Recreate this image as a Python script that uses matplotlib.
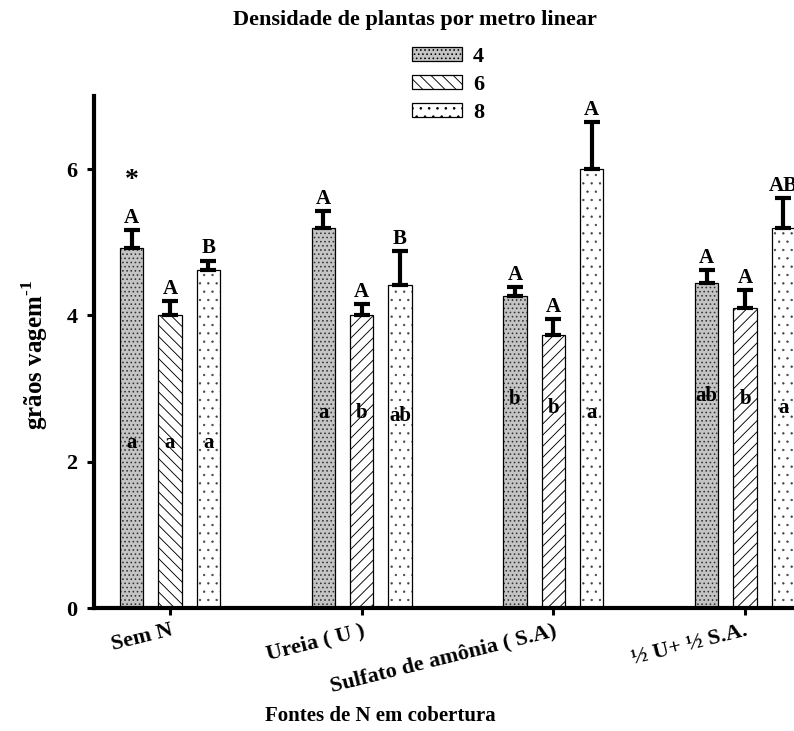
import matplotlib
matplotlib.use("Agg")
import matplotlib.pyplot as plt
import numpy as np

plt.rcParams['font.family'] = ['Liberation Serif', 'DejaVu Serif']
plt.rcParams['font.weight'] = 'bold'
plt.rcParams['mathtext.fontset'] = 'custom'
plt.rcParams['mathtext.rm'] = 'Liberation Serif:bold'
plt.rcParams['mathtext.bf'] = 'Liberation Serif:bold'
plt.rcParams['hatch.color'] = 'black'
plt.rcParams['hatch.linewidth'] = 0.65

# ---------------- data ----------------
categories = ["Sem N", "Ureia ( U )", "Sulfato de amônia ( S.A)", "½ U+ ½ S.A."]
densities = ["4", "6", "8"]
means = {
    "4": [4.92, 5.19, 4.27, 4.45],
    "6": [4.01, 4.01, 3.73, 4.10],
    "8": [4.62, 4.41, 6.00, 5.19],
}
errors = {
    "4": [0.25, 0.24, 0.12, 0.17],
    "6": [0.19, 0.15, 0.22, 0.25],
    "8": [0.13, 0.47, 0.64, 0.42],
}
upper_letters = {
    "4": ["A", "A", "A", "A"],
    "6": ["A", "A", "A", "A"],
    "8": ["B", "B", "A", "AB"],
}
lower_letters = {
    "4": ["a", "a", "b", "ab"],
    "6": ["a", "b", "b", "b"],
    "8": ["a", "ab", "a", "a"],
}
lower_letter_y = {
    "4": [2.25, 2.66, 2.86, 2.90],
    "6": [2.25, 2.66, 2.73, 2.86],
    "8": [2.25, 2.63, 2.67, 2.74],
}
yticks = [0, 2, 4, 6]
title = "Densidade de plantas por metro linear"
xlabel = "Fontes de N em cobertura"
ylabel = r"grãos vagem$^{\text{-1}}$"

# ---------------- style ----------------
offsets = [-0.2, 0.0, 0.2]
width = 0.122
facecolors = {"4": "#c4c4c4", "6": "white", "8": "white"}
hatchcolors = {"4": "#333333", "6": "black", "8": "#444444"}
hatch_lw = {"4": 0.65, "6": 0.65, "8": 0.45}
hatches = {
    "4": ["....", "....", "....", "...."],
    "6": ["\\\\\\", "///", "///", "///"],
    "8": ["..", "..", "..", ".."],
}

fig = plt.figure(figsize=(7.94, 7.31), dpi=100)
ax = fig.add_axes([94/794, 1-608/731, 1-94/794, (608-96)/731])

x = np.arange(len(categories))
handles = []
for j, d in enumerate(densities):
    xs = x + offsets[j]
    # hatch fill layer (hatch drawn in its own colour)
    with plt.rc_context({'hatch.linewidth': hatch_lw[d]}):
        fill = ax.bar(xs, means[d], width=width, color=facecolors[d],
                      edgecolor=hatchcolors[d], linewidth=0, zorder=2)
        for b, h in zip(fill, hatches[d]):
            b.set_hatch(h)
    # outline layer
    ax.bar(xs, means[d], width=width, color='none', edgecolor='black',
           linewidth=0.9, zorder=2.5)
    handles.append(fill[0])
    ax.errorbar(xs, means[d], yerr=[np.zeros(len(xs)), errors[d]],
                fmt='none', ecolor='black', elinewidth=3, capsize=5.5,
                capthick=3, zorder=3)
    for xi, m, e, ul, ll, ly in zip(xs, means[d], errors[d], upper_letters[d],
                                    lower_letters[d], lower_letter_y[d]):
        ax.annotate(ul, (xi, m + e), xytext=(0, 1.5), textcoords='offset points',
                    ha='center', va='bottom', fontsize=15, fontweight='bold',
                    annotation_clip=False, zorder=4)
        ax.text(xi, ly, ll, ha='center', va='center', fontsize=15,
                fontweight='bold', zorder=4)

# asterisk above first group
ax.text(x[0] + offsets[0], 5.84, "*", ha='center', va='center', fontsize=20,
        fontweight='bold')

ax.set_xlim(-0.396, 3.255)
ax.set_ylim(0, 7)
ax.set_yticks(yticks)
ax.set_yticklabels([str(t) for t in yticks], fontsize=16, fontweight='bold')
ax.set_xticks(x)
ax.set_xticklabels(categories, fontsize=16, fontweight='bold')
plt.setp(ax.get_xticklabels(), rotation=14, ha='right', rotation_mode='anchor')

for s in ['top', 'right']:
    ax.spines[s].set_visible(False)
for s in ['left', 'bottom']:
    ax.spines[s].set_linewidth(3)
    ax.spines[s].set_zorder(5)
ax.tick_params(axis='both', direction='out', length=5, width=2.2)
ax.tick_params(axis='y', pad=7)
ax.tick_params(axis='x', pad=4)

ax.set_xlabel(xlabel, fontsize=15, fontweight='bold')
ax.xaxis.set_label_coords((380-94)/699, (608-716)/512)
ax.xaxis.label.set_va('center')
ax.set_ylabel(ylabel, fontsize=18, fontweight='bold')
ax.yaxis.set_label_coords((35-94)/699, (608-355)/512)
ax.yaxis.label.set_va('center')

fig.text(415/794, 1-20/731, title, ha='center', va='center', fontsize=16,
         fontweight='bold')

leg = ax.legend(handles, densities, loc='upper left',
                bbox_to_anchor=(412/794, 1-47/731), bbox_transform=fig.transFigure,
                frameon=False, borderpad=0, borderaxespad=0, fontsize=16,
                handlelength=2.25, handleheight=0.62, labelspacing=0.36,
                handletextpad=0.5)
for t in leg.get_texts():
    t.set_fontweight('bold')
for p in leg.get_patches():
    p.set_edgecolor('black')
    p.set_linewidth(0.9)

fig.savefig("out.png", dpi=100)
